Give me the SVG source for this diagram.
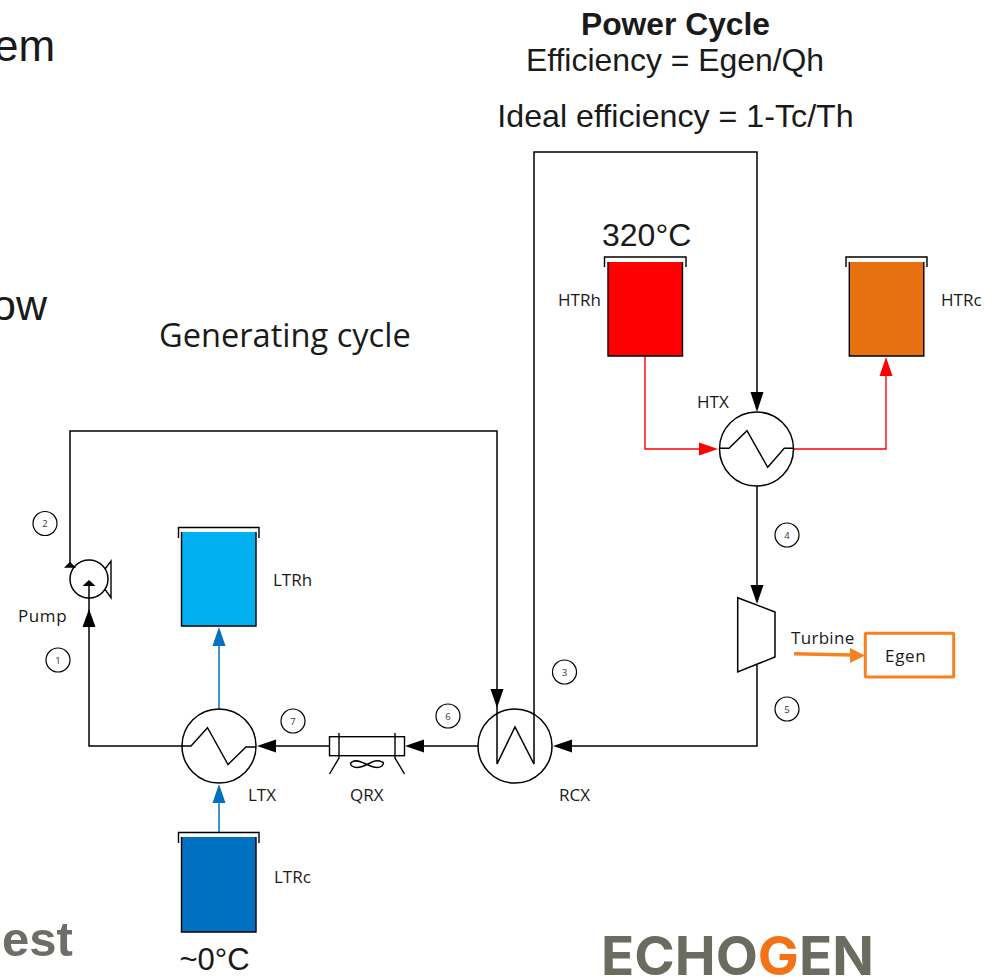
<svg xmlns="http://www.w3.org/2000/svg" width="998" height="980" viewBox="0 0 998 980">
<style>
.a{font-family:"Liberation Sans",Arial,sans-serif;fill:#1a1a1a}
.l{font-family:"Open Sans","Noto Sans",sans-serif;font-size:17px;fill:#1a1a1a}
.n{font-family:"Open Sans","Noto Sans",sans-serif;font-size:9.5px;fill:#333;text-anchor:middle}
.p{fill:none;stroke:#000;stroke-width:1.5}
.e{fill:#fff;stroke:#000;stroke-width:1.5}
.w{fill:none;stroke:#000;stroke-width:1.4}
.bk{fill:#000}
.bl{fill:none;stroke:#0070c0;stroke-width:1.5}
.rd{fill:none;stroke:#f00;stroke-width:1.4}
.c{fill:#fff;stroke:#000;stroke-width:1.2}
</style>
<rect width="998" height="980" fill="#fff"/>
<text class="a" x="-6" y="60.500" font-size="44">em</text>
<text class="a" x="-8" y="320" font-size="43">ow</text>
<text x="2" y="956" font-family="'Liberation Sans',Arial,sans-serif" font-weight="700" font-size="49" fill="#6b6f68">est</text>
<text x="675.500" y="35" text-anchor="middle" font-family="'Liberation Sans',Arial,sans-serif" font-weight="700" font-size="31.800" fill="#1a1a1a">Power Cycle</text>
<text class="a" x="675" y="71" text-anchor="middle" font-size="31.900">Efficiency = Egen/Qh</text>
<text class="a" x="675.500" y="127" text-anchor="middle" font-size="32.200">Ideal efficiency = 1-Tc/Th</text>
<text x="159" y="347" font-family="'Open Sans','Noto Sans',sans-serif" font-size="32.600" fill="#1a1a1a">Generating cycle</text>
<g id="connectors">
<path class="p" d="M70 566V431H497V764L515 727L534 764V152H757V394"/>
<path class="bk" d="M757 412L750.500 392H763.500Z"/>
<path class="bk" d="M497 708L490.500 689H503.500Z"/>
<path class="p" d="M757 486V587"/>
<path class="bk" d="M757 604L750.500 585H763.500Z"/>
<path class="p" d="M757 665V746H570"/>
<path class="bk" d="M553 746L572 739.500V752.500Z"/>
<path class="p" d="M478 746H422"/>
<path class="bk" d="M405 746L424 739.500V752.500Z"/>
<path class="p" d="M329 746H274"/>
<path class="bk" d="M257 746L276 739.500V752.500Z"/>
<path class="p" d="M182 746H89V586"/>
<path class="bk" d="M89 609L82.500 627H95.500Z"/>
<path class="bl" d="M219 709V644"/>
<path fill="#0070c0" d="M219 627L212.500 646H225.500Z"/>
<path class="bl" d="M219 832V801"/>
<path fill="#0070c0" d="M219 784L212.500 803H225.500Z"/>
<path class="rd" d="M645 356V449H702"/>
<path fill="#f00" d="M718 449L699 442.500V455.500Z"/>
<path class="rd" d="M794 449H886V374"/>
<path fill="#f00" d="M886 357L879.500 376H892.500Z"/>
<path fill="none" stroke="#f58220" stroke-width="3.500" d="M794 653.700L852 655"/>
<path fill="#f58220" d="M865 655.500L850 648V663Z"/>
</g>
<g id="pump">
<circle class="p" cx="89" cy="579" r="19"/>
<path class="w" d="M105 569L111 561V597.700L105 589.300"/>
<path class="bk" d="M70 561.700L64 567.700H76Z"/>
<path class="bk" d="M89 580L82.500 586H95.500Z"/>
<text class="l" x="18" y="622" letter-spacing="0.600">Pump</text>
</g>
<g id="ltx">
<circle class="p" cx="219" cy="746" r="37"/>
<path class="w" d="M182 746H191L207.500 727.700L228 764.500L246 747H256"/>
<text class="l" x="248" y="801">LTX</text>
</g>
<g id="qrx">
<rect class="w" x="329.500" y="736.700" width="75" height="19"/>
<path class="w" d="M339 733V758L329.500 774M395 733V758L404.500 774"/>
<path class="w" d="M352 762C356 759 362 762 367 764.500C372 767 378 769 382 766C384 763 384 762 382 762C377 759 372 762 367 764.500C362 767 356 769 352 766C350 764 350 763 352 762Z"/>
<text class="l" x="350" y="801">QRX</text>
</g>
<g id="rcx">
<circle class="p" cx="515" cy="746" r="37"/>
<text class="l" x="559" y="801">RCX</text>
</g>
<g id="htx">
<circle class="p" cx="756.500" cy="449" r="37"/>
<path class="w" d="M719 448.300H729L747 430.700L767.700 467.300L784.300 448.300H794"/>
<text class="l" x="697" y="408">HTX</text>
</g>
<g id="turbine">
<path class="e" d="M737.700 597.700L775 612V657L737.700 672Z"/>
<text class="l" x="791" y="644" letter-spacing="0.300">Turbine</text>
</g>
<g id="egen">
<rect x="865.300" y="633.300" width="88.400" height="43.700" rx="1" fill="#fff" stroke="#f58220" stroke-width="3"/>
<text class="l" x="885" y="662" letter-spacing="0.700">Egen</text>
</g>
<g id="ltrh">
<rect x="181.500" y="532" width="74.500" height="94" fill="#00b0f0" stroke="none"/>
<path class="w" d="M181.500 532V626H256V532"/>
<path class="w" d="M178.500 538V527.500H259V538"/>
<text class="l" x="273" y="586">LTRh</text>
</g>
<g id="ltrc">
<rect x="181.500" y="837" width="74.500" height="95" fill="#0070c0" stroke="none"/>
<path class="w" d="M181.500 837V932H256V837"/>
<path class="w" d="M178.500 843V832.500H259V843"/>
<text class="l" x="274" y="883">LTRc</text>
<text class="a" x="179.500" y="970" font-size="31">~0°C</text>
</g>
<g id="htrh">
<rect x="608" y="262" width="74.500" height="94" fill="#f00" stroke="none"/>
<path class="w" d="M608 262V356H682.500V262"/>
<path class="w" d="M604.500 267V257H686V267"/>
<text class="l" x="558" y="306">HTRh</text>
<text class="a" x="602" y="246" font-size="32">320°C</text>
</g>
<g id="htrc">
<rect x="849.300" y="262" width="74.500" height="94" fill="#e8710f" stroke="none"/>
<path class="w" d="M849.300 262V356H923.800V262"/>
<path class="w" d="M846 267V257H927V267"/>
<text class="l" x="941" y="306">HTRc</text>
</g>
<g id="states">
<circle class="c" cx="58" cy="660" r="12"/><text class="n" x="58" y="664">1</text>
<circle class="c" cx="45" cy="523.500" r="12"/><text class="n" x="45" y="527">2</text>
<circle class="c" cx="564.500" cy="672" r="12"/><text class="n" x="564.500" y="676">3</text>
<circle class="c" cx="787" cy="535" r="12"/><text class="n" x="787" y="539">4</text>
<circle class="c" cx="787" cy="709" r="12"/><text class="n" x="787" y="713">5</text>
<circle class="c" cx="448" cy="716" r="12"/><text class="n" x="448" y="720">6</text>
<circle class="c" cx="293" cy="721" r="12"/><text class="n" x="293" y="725">7</text>
</g>
<text x="601" y="975" font-family="Inter,'Liberation Sans',sans-serif" font-weight="700" font-size="53" fill="#6b6b60" textLength="273" lengthAdjust="spacingAndGlyphs">ECHO<tspan fill="#f47216">G</tspan>EN</text>
</svg>
